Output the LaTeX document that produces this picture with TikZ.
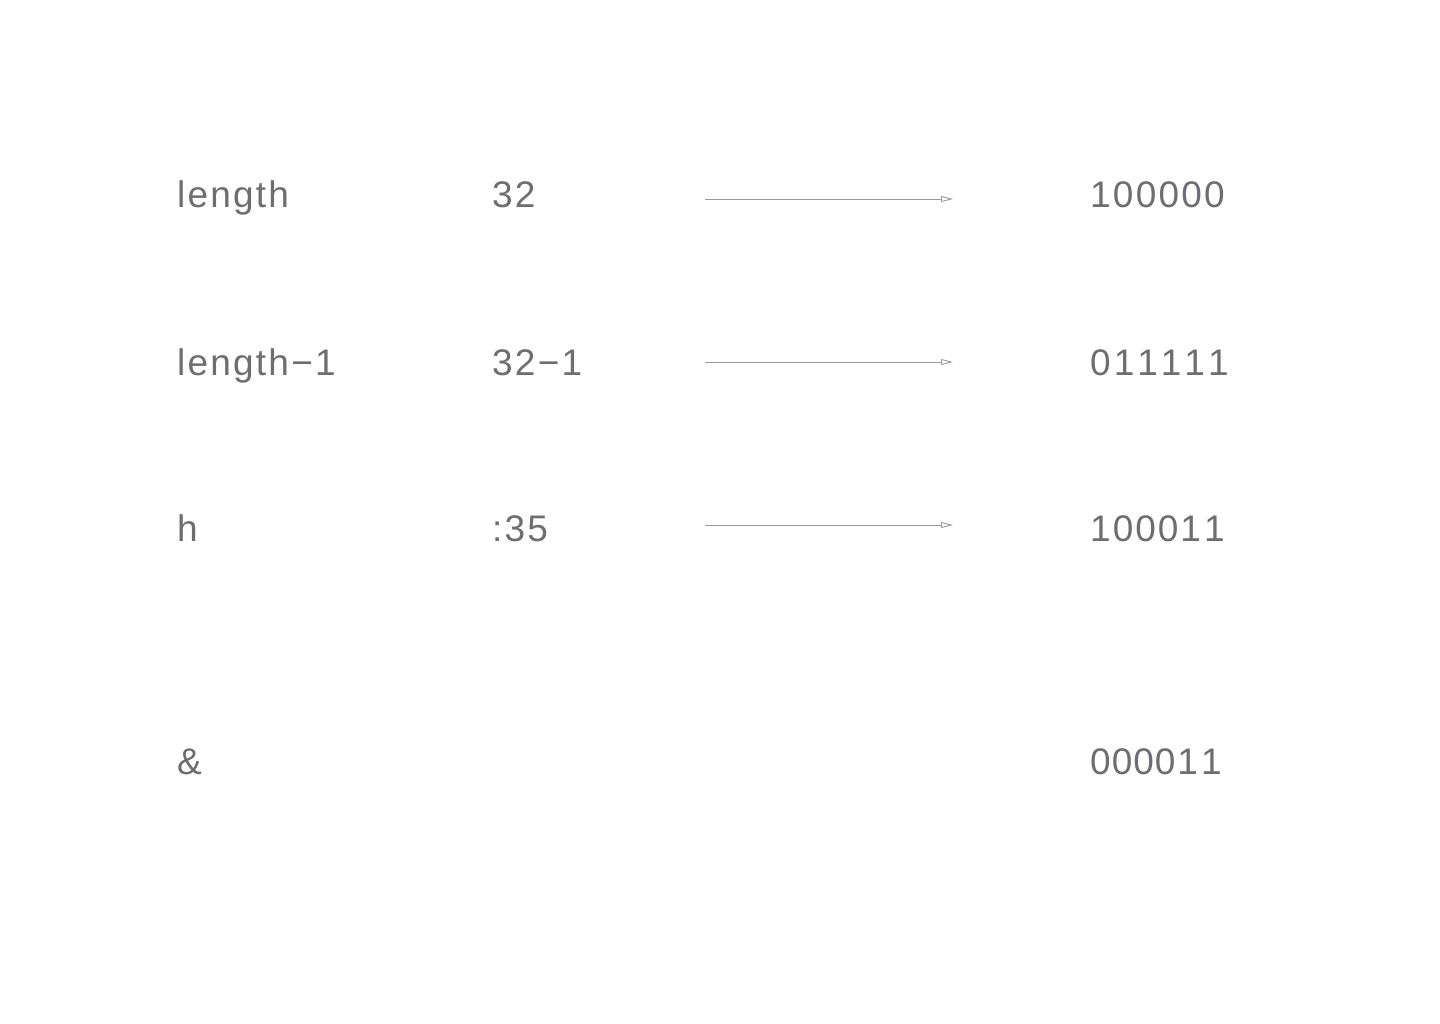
\documentclass[tikz,border=0pt]{standalone}
\usepackage{fontspec}
\setmainfont[LetterSpace=6]{Liberation Sans}
\usetikzlibrary{arrows.meta}
\definecolor{txtgray}{HTML}{6E6E72}
\definecolor{linegray}{HTML}{9A9A9E}
\begin{document}
\begin{tikzpicture}[x=1pt,y=-1pt,
  lbl/.style={anchor=base west,inner sep=0pt,text=txtgray,font=\fontsize{37}{40}\selectfont},
  conn/.style={draw=linegray,line width=0.9pt,-{Triangle[open,length=12pt,width=6pt]}}]
\useasboundingbox[fill=white] (0,0) rectangle (1440,1024);
% row 1
\node[lbl] (l1) at (177,208) {length};
\node[lbl] (m1) at (492,208) {32};
\node[lbl] (r1) at (1090,208) {100000};
\coordinate (s1) at (705,199);
\coordinate (e1) at (953,199);
\draw[conn] (s1) -- (e1);
% row 2
\node[lbl] (l2) at (177,375) {length−1};
\node[lbl] (m2) at (492,375) {32−1};
\node[lbl] (r2) at (1090,375) {0\kern3pt1\kern3pt1\kern3pt1\kern3pt1\kern3pt1};
\coordinate (s2) at (705,362);
\coordinate (e2) at (953,362);
\draw[conn] (s2) -- (e2);
% row 3
\node[lbl] (l3) at (177,541) {h};
\node[lbl] (m3) at (492,541) {:35};
\node[lbl] (r3) at (1090,541) {1\kern2pt0\kern2pt0\kern2pt0\kern2pt1\kern3pt1};
\coordinate (s3) at (705,525);
\coordinate (e3) at (953,525);
\draw[conn] (s3) -- (e3);
% row 4
\node[lbl] (l4) at (177,774) {\&};
\node[lbl] (r4) at (1090,774) {0\kern1pt0\kern1pt0\kern1pt0\kern2pt1\kern3pt1};
\end{tikzpicture}
\end{document}
